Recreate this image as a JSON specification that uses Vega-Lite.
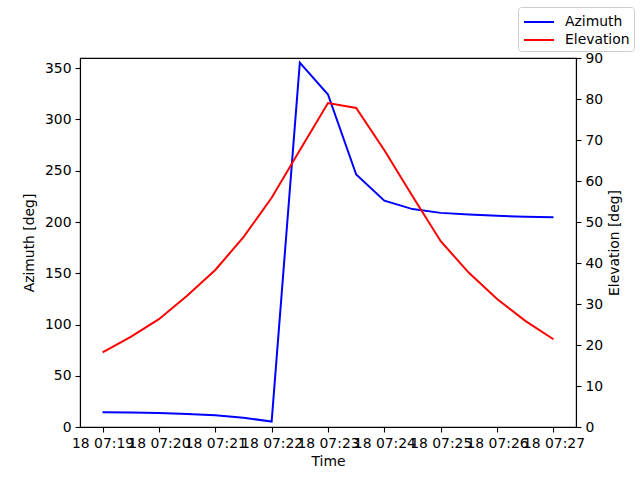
{
  "$schema": "https://vega.github.io/schema/vega-lite/v6.json",
  "width": 496,
  "height": 369,
  "autosize": {"type": "none"},
  "padding": {"left": 80, "top": 58, "right": 64, "bottom": 53},
  "data": {
    "values": [
      {"time": "2024-01-18T07:19:00Z", "series": "Azimuth", "value": 14.5},
      {"time": "2024-01-18T07:19:30Z", "series": "Azimuth", "value": 14.1},
      {"time": "2024-01-18T07:20:00Z", "series": "Azimuth", "value": 13.6},
      {"time": "2024-01-18T07:20:30Z", "series": "Azimuth", "value": 12.7},
      {"time": "2024-01-18T07:21:00Z", "series": "Azimuth", "value": 11.4},
      {"time": "2024-01-18T07:21:30Z", "series": "Azimuth", "value": 9.1},
      {"time": "2024-01-18T07:22:00Z", "series": "Azimuth", "value": 5.3},
      {"time": "2024-01-18T07:22:30Z", "series": "Azimuth", "value": 355.5},
      {"time": "2024-01-18T07:23:00Z", "series": "Azimuth", "value": 324.4},
      {"time": "2024-01-18T07:23:30Z", "series": "Azimuth", "value": 246.3},
      {"time": "2024-01-18T07:24:00Z", "series": "Azimuth", "value": 220.8},
      {"time": "2024-01-18T07:24:30Z", "series": "Azimuth", "value": 212.6},
      {"time": "2024-01-18T07:25:00Z", "series": "Azimuth", "value": 208.9},
      {"time": "2024-01-18T07:25:30Z", "series": "Azimuth", "value": 207.2},
      {"time": "2024-01-18T07:26:00Z", "series": "Azimuth", "value": 206.0},
      {"time": "2024-01-18T07:26:30Z", "series": "Azimuth", "value": 205.2},
      {"time": "2024-01-18T07:27:00Z", "series": "Azimuth", "value": 204.6},
      {"time": "2024-01-18T07:19:00Z", "series": "Elevation", "value": 18.2},
      {"time": "2024-01-18T07:19:30Z", "series": "Elevation", "value": 22.0},
      {"time": "2024-01-18T07:20:00Z", "series": "Elevation", "value": 26.3},
      {"time": "2024-01-18T07:20:30Z", "series": "Elevation", "value": 32.0},
      {"time": "2024-01-18T07:21:00Z", "series": "Elevation", "value": 38.3},
      {"time": "2024-01-18T07:21:30Z", "series": "Elevation", "value": 46.3},
      {"time": "2024-01-18T07:22:00Z", "series": "Elevation", "value": 55.9},
      {"time": "2024-01-18T07:22:30Z", "series": "Elevation", "value": 67.5},
      {"time": "2024-01-18T07:23:00Z", "series": "Elevation", "value": 79.0},
      {"time": "2024-01-18T07:23:30Z", "series": "Elevation", "value": 77.8},
      {"time": "2024-01-18T07:24:00Z", "series": "Elevation", "value": 67.5},
      {"time": "2024-01-18T07:24:30Z", "series": "Elevation", "value": 56.3},
      {"time": "2024-01-18T07:25:00Z", "series": "Elevation", "value": 45.3},
      {"time": "2024-01-18T07:25:30Z", "series": "Elevation", "value": 37.6},
      {"time": "2024-01-18T07:26:00Z", "series": "Elevation", "value": 31.2},
      {"time": "2024-01-18T07:26:30Z", "series": "Elevation", "value": 25.9},
      {"time": "2024-01-18T07:27:00Z", "series": "Elevation", "value": 21.4}
    ]
  },
  "encoding": {
    "x": {
      "field": "time",
      "type": "temporal",
      "title": "Time",
      "scale": {
        "type": "utc",
        "domain": [
          {"year": 2024, "month": 1, "date": 18, "hours": 7, "minutes": 18, "seconds": 36, "utc": true},
          {"year": 2024, "month": 1, "date": 18, "hours": 7, "minutes": 27, "seconds": 24, "utc": true}
        ]
      },
      "axis": {
        "labelExpr": "utcFormat(datum.value, '%d %H:%M')",
        "labelOverlap": false,
        "labelFlush": false,
        "labelBound": false,
        "titlePadding": 5,
        "values": [
          {"year": 2024, "month": 1, "date": 18, "hours": 7, "minutes": 19, "utc": true},
          {"year": 2024, "month": 1, "date": 18, "hours": 7, "minutes": 20, "utc": true},
          {"year": 2024, "month": 1, "date": 18, "hours": 7, "minutes": 21, "utc": true},
          {"year": 2024, "month": 1, "date": 18, "hours": 7, "minutes": 22, "utc": true},
          {"year": 2024, "month": 1, "date": 18, "hours": 7, "minutes": 23, "utc": true},
          {"year": 2024, "month": 1, "date": 18, "hours": 7, "minutes": 24, "utc": true},
          {"year": 2024, "month": 1, "date": 18, "hours": 7, "minutes": 25, "utc": true},
          {"year": 2024, "month": 1, "date": 18, "hours": 7, "minutes": 26, "utc": true},
          {"year": 2024, "month": 1, "date": 18, "hours": 7, "minutes": 27, "utc": true}
        ]
      }
    },
    "color": {
      "field": "series",
      "type": "nominal",
      "scale": {"domain": ["Azimuth", "Elevation"], "range": ["#0000ff", "#ff0000"]},
      "legend": {"title": null}
    }
  },
  "layer": [
    {
      "transform": [{"filter": "datum.series === 'Azimuth'"}],
      "mark": {"type": "line", "strokeWidth": 2},
      "encoding": {
        "y": {
          "field": "value",
          "type": "quantitative",
          "title": "Azimuth [deg]",
          "scale": {"domain": [0, 360], "nice": false, "zero": false},
          "axis": {"values": [0, 50, 100, 150, 200, 250, 300, 350], "titlePadding": 8}
        }
      }
    },
    {
      "transform": [{"filter": "datum.series === 'Elevation'"}],
      "mark": {"type": "line", "strokeWidth": 2},
      "encoding": {
        "y": {
          "field": "value",
          "type": "quantitative",
          "title": "Elevation [deg]",
          "scale": {"domain": [0, 90], "nice": false, "zero": false},
          "axis": {"orient": "right", "values": [0, 10, 20, 30, 40, 50, 60, 70, 80, 90], "titleAngle": 270, "titlePadding": 19}
        }
      }
    }
  ],
  "resolve": {"scale": {"y": "independent"}},
  "config": {
    "font": "DejaVu Sans",
    "view": {"stroke": "black", "strokeWidth": 1.1},
    "axis": {
      "grid": false,
      "domainColor": "black",
      "domainWidth": 1.1,
      "tickColor": "black",
      "tickSize": 5,
      "tickWidth": 1.1,
      "labelPadding": 4,
      "labelColor": "black",
      "labelFont": "DejaVu Sans",
      "labelFontSize": 13.9,
      "titleColor": "black",
      "titleFont": "DejaVu Sans",
      "titleFontSize": 13.9,
      "titleFontWeight": "normal"
    },
    "legend": {
      "orient": "none",
      "legendX": 438,
      "legendY": -51,
      "strokeColor": "#cccccc",
      "fillColor": "white",
      "cornerRadius": 3,
      "padding": 4,
      "symbolType": "M-1.5,0H1.5",
      "symbolSize": 400,
      "symbolOffset": 6,
      "symbolStrokeWidth": 2,
      "labelFont": "DejaVu Sans",
      "labelFontSize": 13.9,
      "labelColor": "black",
      "labelOffset": 15,
      "rowPadding": 0
    }
  }
}
